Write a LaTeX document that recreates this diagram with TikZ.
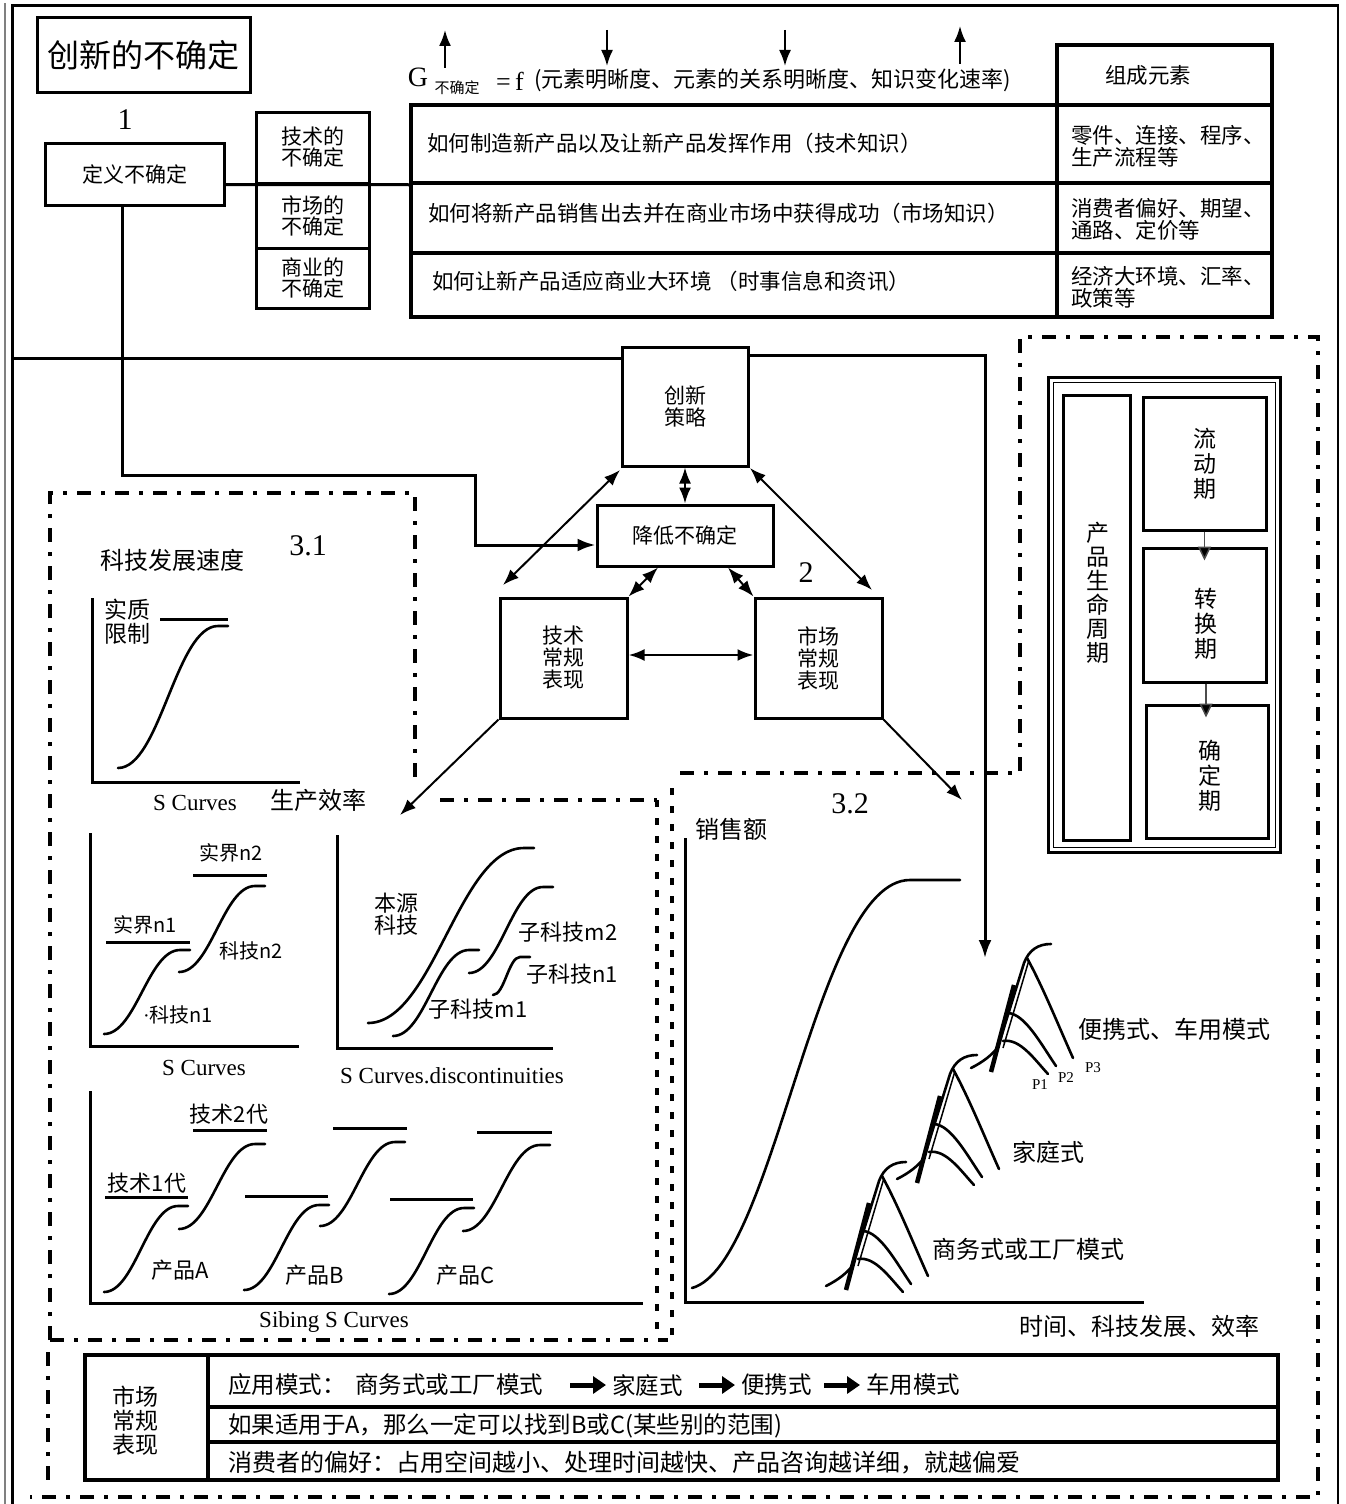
\documentclass[tikz,border=0pt]{standalone}
\usepackage{fontspec}
\setmainfont{Noto Sans CJK SC}
\newfontfamily\ser{Liberation Serif}
\usetikzlibrary{arrows.meta,calc}
\newcommand{\myfs}[1]{\fontsize{#1}{#1}\selectfont}
\newcommand{\Sc}[4]{%
\pgfmathsetmacro\scA{#1+0.42*(#3-10-#1)}%
\pgfmathsetmacro\scB{#3-10-0.42*(#3-10-#1)}%
\draw[curve] (#1,#2) .. controls (\scA,#2) and (\scB,#4) .. ({#3-10},#4) -- (#3,#4);}
\newcommand{\peakgroup}[2]{%
\begin{scope}[shift={(#1,#2)}]
\draw[curve] (826,1286) .. controls (838,1280) and (847,1273) .. (853,1265) -- (879,1181) .. controls (884,1168) and (893,1162) .. (906,1162);
\draw[line width=1.5pt] (858,1266) -- (884,1178);
\draw[line width=4.5pt] (846,1290) -- (869,1203);
\draw[curve] (882,1176) .. controls (898,1205) and (914,1245) .. (928,1276);
\draw[curve] (863,1231) .. controls (880,1232) and (896,1262) .. (911,1284);
\draw[curve] (858,1259) .. controls (875,1256) and (890,1278) .. (903,1292);
\end{scope}}
\begin{document}
\begin{tikzpicture}[x=1pt,y=-1pt,
  box/.style={draw,line width=3pt,inner sep=0pt,align=center},
  cell/.style={draw,line width=3.5pt,inner sep=0pt},
  arr/.style={line width=2pt,-{Latex[length=16pt,width=12pt]}},
  darr/.style={line width=2pt,{Latex[length=16pt,width=12pt]}-{Latex[length=16pt,width=12pt]}},
  conn/.style={line width=3pt},
  curve/.style={line width=2.6pt,line cap=round},
  axis/.style={line width=3pt},
  region/.style={line width=3.5pt,dash pattern=on 14pt off 10pt on 4pt off 10pt},
  dotreg/.style={line width=3.5pt,dash pattern=on 7pt off 11pt},
  lbl/.style={inner sep=0pt,font=\myfs{22}},
  big/.style={inner sep=0pt,font=\myfs{24}},
  serlbl/.style={inner sep=0pt,font=\ser\myfs{23}},
  num/.style={inner sep=0pt,font=\ser\myfs{30}},
  vtext/.style={inner sep=0pt,align=center,font=\fontsize{23}{25}\selectfont},
  barr/.style={line width=5pt,-{Triangle[length=13pt,width=17pt]},shorten >=6pt},
]
\useasboundingbox (0,0) rectangle (1345,1504);
\fill[white] (0,0) rectangle (1345,1504);
% outer frame
\draw[gray,line width=1.2pt] (5,1504) -- (5,3);
\draw[line width=3pt] (12,1504) -- (12,6) -- (1339,6);
\draw[line width=1.5pt] (1338,6) -- (1338,1504);

% title
\node[box,minimum width=213,minimum height=74] (title) at (143.5,55) {\myfs{32}创新的不确定};
\node[num] (n1) at (125,120) {1};
\node[box,minimum width=179,minimum height=62,font=\myfs{21}] (def) at (134.5,174) {定义不确定};

% three uncertainty boxes
\node[box,minimum width=113,minimum height=71,font=\myfs{21}] (tu) at (312.5,147.5) {技术的\\不确定};
\node[box,minimum width=113,minimum height=65,font=\myfs{21}] (mu) at (312.5,215.5) {市场的\\不确定};
\node[box,minimum width=113,minimum height=60,font=\myfs{21}] (bu) at (312.5,278) {商业的\\不确定};

% formula
\node[inner sep=0pt,font=\ser\myfs{28}] (G) at (418,77) {G};
\node[inner sep=0pt,font=\myfs{15}] (Gsub) at (457,88) {不确定};
\node[inner sep=0pt,font=\ser\myfs{26},anchor=west] (eqf) at (496,81) {=\,f};
\node[inner sep=0pt,font=\myfs{22},anchor=west] (ftxt) at (534,80) {(元素明晰度、元素的关系明晰度、知识变化速率)};
\coordinate (ga1) at (445,68); \coordinate (ga2) at (445,30);
\coordinate (gb1) at (607,30); \coordinate (gb2) at (607,66);
\coordinate (gc1) at (785,30); \coordinate (gc2) at (785,66);
\coordinate (gd1) at (960,64); \coordinate (gd2) at (960,26);
\draw[arr] (ga1) -- (ga2);
\draw[arr] (gb1) -- (gb2);
\draw[arr] (gc1) -- (gc2);
\draw[arr] (gd1) -- (gd2);

% knowledge table
\node[cell,minimum width=215,minimum height=60] (h0) at (1164.5,75) {};
\node[cell,minimum width=646,minimum height=78] (r1) at (734,144) {};
\node[cell,minimum width=646,minimum height=70] (r2) at (734,218) {};
\node[cell,minimum width=646,minimum height=64] (r3) at (734,285) {};
\node[cell,minimum width=215,minimum height=78] (c1) at (1164.5,144) {};
\node[cell,minimum width=215,minimum height=70] (c2) at (1164.5,218) {};
\node[cell,minimum width=215,minimum height=64] (c3) at (1164.5,285) {};
\node[inner sep=0pt,font=\myfs{21.5}] (h0t) at (1148,75) {组成元素};
\node[inner sep=0pt,font=\myfs{21.5},anchor=west] (r1t) at (427,143) {如何制造新产品以及让新产品发挥作用（技术知识）};
\node[inner sep=0pt,font=\myfs{21.5},anchor=west] (r2t) at (428,213) {如何将新产品销售出去并在商业市场中获得成功（市场知识）};
\node[inner sep=0pt,font=\myfs{21.5},anchor=west] (r3t) at (432,281) {如何让新产品适应商业大环境 （时事信息和资讯）};
\node[inner sep=0pt,font=\fontsize{21.5}{22}\selectfont,align=left,anchor=west] (c1t) at (1071,146) {零件、连接、程序、\\生产流程等};
\node[inner sep=0pt,font=\fontsize{21.5}{22}\selectfont,align=left,anchor=west] (c2t) at (1071,219) {消费者偏好、期望、\\通路、定价等};
\node[inner sep=0pt,font=\fontsize{21.5}{22}\selectfont,align=left,anchor=west] (c3t) at (1071,287) {经济大环境、汇率、\\政策等};
\draw[conn] (def.east |- tu.south) -- (r1.south west);

% strategy triangle
\node[box,minimum width=126,minimum height=119,font=\fontsize{21}{22}\selectfont] (strat) at (685,406.5) {创新\\策略};
\node[box,minimum width=176,minimum height=61,font=\myfs{21}] (red) at (685,535.5) {降低不确定};
\node[box,minimum width=127,minimum height=120,font=\fontsize{21}{22}\selectfont] (tn) at (563.5,658) {技术\\常规\\表现};
\node[box,minimum width=127,minimum height=120,font=\fontsize{21}{22}\selectfont] (mn) at (818.5,658) {市场\\常规\\表现};
\node[num] (n2) at (806,573) {2};
\coordinate (lstart) at (12,358);
\draw[conn] (lstart) -- (strat.west |- 0,358);
\coordinate (rturn) at (985,355);
\coordinate (rend) at (985,958);
\draw[conn,-{Latex[length=18pt,width=13pt]}] (strat.east |- 0,355) -- (rturn) -- (rend);
\draw[conn,-{Latex[length=18pt,width=13pt]}] (def.south -| 122,0) -- (122,475) -- (475,475) -- (475,545) -- (red.west |- 0,545);
\draw[darr] (strat.south) -- (red.north);
\coordinate (dl) at (503,585);
\coordinate (dr) at (872,590);
\draw[darr] (620,470) -- (dl);
\draw[darr] (750,468) -- (dr);
\draw[darr] (red.south -| 658,0) -- (tn.north east);
\draw[darr] (red.south -| 728,0) -- (mn.north west);
\draw[darr,line width=2.5pt] (tn.east |- 0,655) -- (mn.west |- 0,655);
\coordinate (tnend) at (400,815);
\coordinate (mnend) at (962,800);
\draw[arr] (tn.south west) -- (tnend);
\draw[arr] (mn.south east) -- (mnend);

% dashed regions
\draw[region] (50,1340) -- (50,493) -- (415,493) -- (415,785);
\draw[region] (440,800) -- (657,800);
\draw[dotreg] (657,800) -- (657,1340);
\draw[region] (50,1340) -- (668,1340);
\draw[dotreg] (672,1335) -- (672,780);
\draw[region] (680,773) -- (1020,773) -- (1020,337) -- (1318,337) -- (1318,1497) -- (30,1497);
\draw[region] (48,1352) -- (48,1482);

% 3.1 top chart
\node[num] (n31) at (308,546) {3.1};
\node[big] (ky) at (172,560) {科技发展速度};
\draw[axis] (92,598) -- (92,782) -- (300,782);
\node[inner sep=0pt,align=center,font=\fontsize{23}{24}\selectfont] (szl) at (127,622) {实质\\限制};
\draw[axis] (160,619) -- (228,619);
\Sc{118}{768}{228}{626}
\node[serlbl] (sc0) at (195,803) {S Curves};
\node[big] (sx) at (318,800) {生产效率};

% S Curves chart
\draw[axis] (90,833) -- (90,1046) -- (299,1046);
\Sc{104}{1034}{190}{950}
\Sc{179}{972}{265}{886}
\draw[axis] (106,942) -- (190,942);
\draw[axis] (193,875) -- (267,875);
\node[lbl,font=\myfs{20}] (sj1) at (145,925) {实界n1};
\node[lbl,font=\myfs{20}] (sj2) at (231,853) {实界n2};
\node[lbl,font=\myfs{20}] (kj2) at (251,951) {科技n2};
\node[lbl,font=\myfs{20}] (kj1) at (178,1015) {{\ser·}科技n1};
\node[serlbl] (sc1) at (204,1068) {S Curves};

% discontinuities chart
\draw[axis] (337,835) -- (337,1048) -- (553,1048);
\Sc{368}{1023}{534}{848}
\Sc{393}{1036}{479}{950}
\Sc{469}{973}{553}{887}
\Sc{493}{995}{530}{957}
\node[inner sep=0pt,align=center,font=\fontsize{22}{22}\selectfont] (by) at (396,914) {本源\\科技};
\node[lbl] (zm2) at (568,932) {子科技m2};
\node[lbl] (zn1) at (572,974) {子科技n1};
\node[lbl] (zm1) at (478,1009) {子科技m1};
\node[serlbl] (sc2) at (452,1076) {S Curves.discontinuities};

% sibling chart
\draw[axis] (90,1091) -- (90,1303) -- (643,1303);
\Sc{104}{1292}{188}{1206}
\Sc{179}{1229}{265}{1144}
\Sc{244}{1290}{329}{1205}
\Sc{320}{1226}{405}{1142}
\Sc{389}{1294}{474}{1208}
\Sc{463}{1231}{550}{1145}
\draw[axis] (105,1197) -- (188,1197);
\draw[axis] (193,1130) -- (267,1130);
\draw[axis] (245,1196) -- (328,1196);
\draw[axis] (333,1128) -- (407,1128);
\draw[axis] (390,1199) -- (473,1199);
\draw[axis] (477,1132) -- (552,1132);
\node[lbl] (js1) at (147,1183) {技术1代};
\node[lbl] (js2) at (229,1114) {技术2代};
\node[lbl] (pa) at (180,1270) {产品A};
\node[lbl] (pb) at (315,1275) {产品B};
\node[lbl] (pc) at (466,1275) {产品C};
\node[serlbl] (sc3) at (334,1322) {Sibing S Curves};

% 3.2 chart
\node[num] (n32) at (850,804) {3.2};
\node[big] (xse) at (731,829) {销售额};
\draw[axis] (685,838) -- (685,1302) -- (1144,1302);
\draw[curve] (692,1288) .. controls (775,1265) and (815,880) .. (910,880) -- (960,880);
\peakgroup{0}{0}
\peakgroup{71}{-107}
\peakgroup{145}{-218}
\node[inner sep=0pt,font=\ser\myfs{15}] (p1) at (1040,1085) {P1};
\node[inner sep=0pt,font=\ser\myfs{15}] (p2) at (1066,1078) {P2};
\node[inner sep=0pt,font=\ser\myfs{15}] (p3) at (1093,1068) {P3};
\node[big] (bx) at (1174,1029) {便携式、车用模式};
\node[big] (jt) at (1048,1152) {家庭式};
\node[big] (sw) at (1028,1249) {商务式或工厂模式};
\node[big] (sj) at (1139,1326) {时间、科技发展、效率};

% product life cycle
\draw[line width=3pt] (1048,377) rectangle (1280,852);
\draw[line width=1pt] (1053,382) rectangle (1275,847);
\node[box,minimum width=67,minimum height=445] (life) at (1096.5,617.5) {};
\node[box,minimum width=123,minimum height=133] (flow) at (1204.5,463.5) {};
\node[box,minimum width=123,minimum height=134] (trans) at (1204.5,615) {};
\node[box,minimum width=122,minimum height=133] (fix) at (1207,771.5) {};
\node[vtext,font=\fontsize{23}{24}\selectfont] (lifet) at (1098,593) {产\\品\\生\\命\\周\\期};
\node[vtext] (flowt) at (1205,464) {流\\动\\期};
\node[vtext] (transt) at (1206,624) {转\\换\\期};
\node[vtext] (fixt) at (1210,776) {确\\定\\期};
\draw[line width=1.5pt,gray!60!black,-{Triangle[length=14pt,width=13pt,fill=black]}] (flow.south) -- ($(trans.north)+(0,14)$);
\draw[line width=1.5pt,gray!60!black,-{Triangle[length=14pt,width=13pt,fill=black]}] (trans.south -| 1206,0) -- ($(fix.north -| 1206,0)+(0,14)$);

% bottom table
\node[cell,minimum width=123,minimum height=125] (lc) at (146.5,1417.5) {};
\node[cell,minimum width=1070,minimum height=52] (b1) at (743,1381) {};
\node[cell,minimum width=1070,minimum height=35] (b2) at (743,1424.5) {};
\node[cell,minimum width=1070,minimum height=38] (b3) at (743,1461) {};
\draw[line width=4.5pt] (85,1355) rectangle (1278,1480);
\node[inner sep=0pt,align=center,font=\fontsize{23}{24}\selectfont] (lct) at (135,1421) {市场\\常规\\表现};
\node[inner sep=0pt,font=\myfs{23.5},anchor=west] (b1t) at (228,1385) {应用模式：\hspace{0.4em}商务式或工厂模式};
\node[inner sep=0pt,font=\myfs{23.5},anchor=west] (b1u) at (612,1385) {家庭式};
\node[inner sep=0pt,font=\myfs{23.5},anchor=west] (b1v) at (741,1385) {便携式};
\node[inner sep=0pt,font=\myfs{23.5},anchor=west] (b1w) at (866,1385) {车用模式};
\coordinate (a1s) at ($(b1u.west)+(-42,0)$);
\coordinate (a2s) at ($(b1v.west)+(-42,0)$);
\coordinate (a3s) at ($(b1w.west)+(-42,0)$);
\draw[barr] (a1s) -- (b1u.west);
\draw[barr] (a2s) -- (b1v.west);
\draw[barr] (a3s) -- (b1w.west);
\node[inner sep=0pt,font=\myfs{23.5},anchor=west] (b2t) at (228,1426) {如果适用于A，那么一定可以找到B或C(某些别的范围)};
\node[inner sep=0pt,font=\myfs{24},anchor=west] (b3t) at (228,1463) {消费者的偏好：占用空间越小、处理时间越快、产品咨询越详细，就越偏爱};
\end{tikzpicture}
\end{document}
